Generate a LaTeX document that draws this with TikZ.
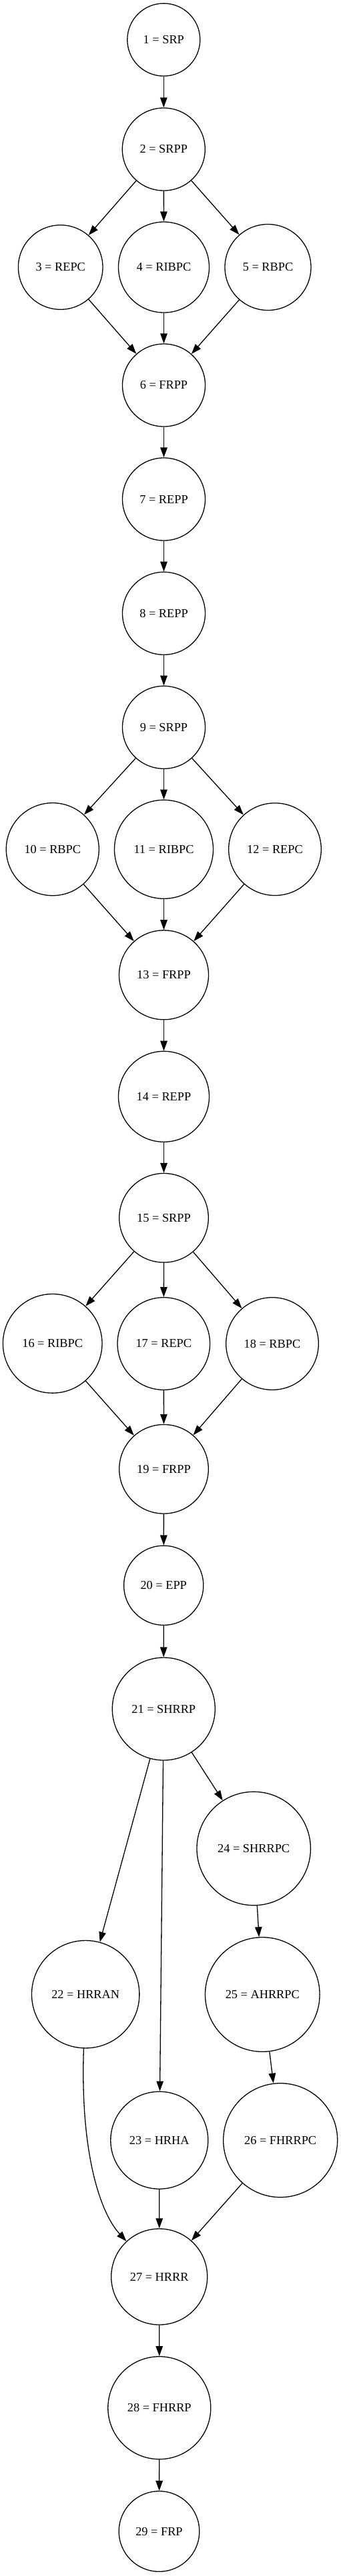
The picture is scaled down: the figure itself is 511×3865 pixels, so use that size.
\documentclass[tikz,border=0pt]{standalone}
\usepackage{fontspec}
\setmainfont{Liberation Serif}
\usetikzlibrary{arrows.meta}
\begin{document}
\begin{tikzpicture}[x=1pt,y=-1pt,
  st/.style={circle,draw,line width=1.3pt,inner sep=0pt,font=\fontsize{18.3pt}{22pt}\selectfont},
  edge/.style={line width=1.3pt,-{Triangle[length=15pt,width=10.5pt]}}]
\useasboundingbox (0,0) rectangle (511,3865);
\node[st,minimum size=109pt] (n1) at (245.3,59.6) {1 = SRP};
\node[st,minimum size=124pt] (n2) at (245.3,224) {2 = SRPP};
\node[st,minimum size=126.6pt] (n3) at (90.7,401) {3 = REPC};
\node[st,minimum size=136pt] (n4) at (245.5,401) {4 = RIBPC};
\node[st,minimum size=129pt] (n5) at (401.5,401) {5 = RBPC};
\node[st,minimum size=124pt] (n6) at (245.5,578) {6 = FRPP};
\node[st,minimum size=124pt] (n7) at (245.5,749) {7 = REPP};
\node[st,minimum size=124pt] (n8) at (245.5,920.3) {8 = REPP};
\node[st,minimum size=124pt] (n9) at (245.5,1091.3) {9 = SRPP};
\node[st,minimum size=139pt] (n10) at (78.8,1274.2) {10 = RBPC};
\node[st,minimum size=148pt] (n11) at (245.5,1274.3) {11 = RIBPC};
\node[st,minimum size=138.6pt] (n12) at (412,1274.2) {12 = REPC};
\node[st,minimum size=134pt] (n13) at (245.5,1462.8) {13 = FRPP};
\node[st,minimum size=136pt] (n14) at (245.5,1645.3) {14 = REPP};
\node[st,minimum size=133.6pt] (n15) at (245.5,1827.3) {15 = SRPP};
\node[st,minimum size=148.6pt] (n16) at (78.7,2015.8) {16 = RIBPC};
\node[st,minimum size=138.6pt] (n17) at (245.3,2016) {17 = REPC};
\node[st,minimum size=138.6pt] (n18) at (408,2016) {18 = RBPC};
\node[st,minimum size=133.6pt] (n19) at (245.5,2204.2) {19 = FRPP};
\node[st,minimum size=119.2pt] (n20) at (245.2,2378.7) {20 = EPP};
\node[st,minimum size=154pt] (n21) at (245.3,2564) {21 = SHRRP};
\node[st,minimum size=161.4pt] (n22) at (128.2,2992.2) {22 = HRRAN};
\node[st,minimum size=146pt] (n23) at (238.8,3211.2) {23 = HRHA};
\node[st,minimum size=170.4pt] (n24) at (380.2,2773.5) {24 = SHRRPC};
\node[st,minimum size=171.6pt] (n25) at (393.3,2992.5) {25 = AHRRPC};
\node[st,minimum size=171pt] (n26) at (420.2,3211.2) {26 = FHRRPC};
\node[st,minimum size=144pt] (n27) at (238.7,3416) {27 = HRRR};
\node[st,minimum size=154pt] (n28) at (238.8,3612.7) {28 = FHRRP};
\node[st,minimum size=120.6pt] (n29) at (238.5,3798) {29 = FRP};
\draw[edge] (n1) -- (n2);
\draw[edge] (n2) -- (n3);
\draw[edge] (n2) -- (n4);
\draw[edge] (n2) -- (n5);
\draw[edge] (n3) -- (n6);
\draw[edge] (n4) -- (n6);
\draw[edge] (n5) -- (n6);
\draw[edge] (n6) -- (n7);
\draw[edge] (n7) -- (n8);
\draw[edge] (n8) -- (n9);
\draw[edge] (n9) -- (n10);
\draw[edge] (n9) -- (n11);
\draw[edge] (n9) -- (n12);
\draw[edge] (n10) -- (n13);
\draw[edge] (n11) -- (n13);
\draw[edge] (n12) -- (n13);
\draw[edge] (n13) -- (n14);
\draw[edge] (n14) -- (n15);
\draw[edge] (n15) -- (n16);
\draw[edge] (n15) -- (n17);
\draw[edge] (n15) -- (n18);
\draw[edge] (n16) -- (n19);
\draw[edge] (n17) -- (n19);
\draw[edge] (n18) -- (n19);
\draw[edge] (n19) -- (n20);
\draw[edge] (n20) -- (n21);
\draw[edge] (n21) -- (n22);
\draw[edge] (n21) -- (n23);
\draw[edge] (n21) -- (n24);
\draw[edge] (n22) .. controls (120,3230) and (150,3320) .. (n27);
\draw[edge] (n23) -- (n27);
\draw[edge] (n24) -- (n25);
\draw[edge] (n25) -- (n26);
\draw[edge] (n26) -- (n27);
\draw[edge] (n27) -- (n28);
\draw[edge] (n28) -- (n29);
\end{tikzpicture}
\end{document}
